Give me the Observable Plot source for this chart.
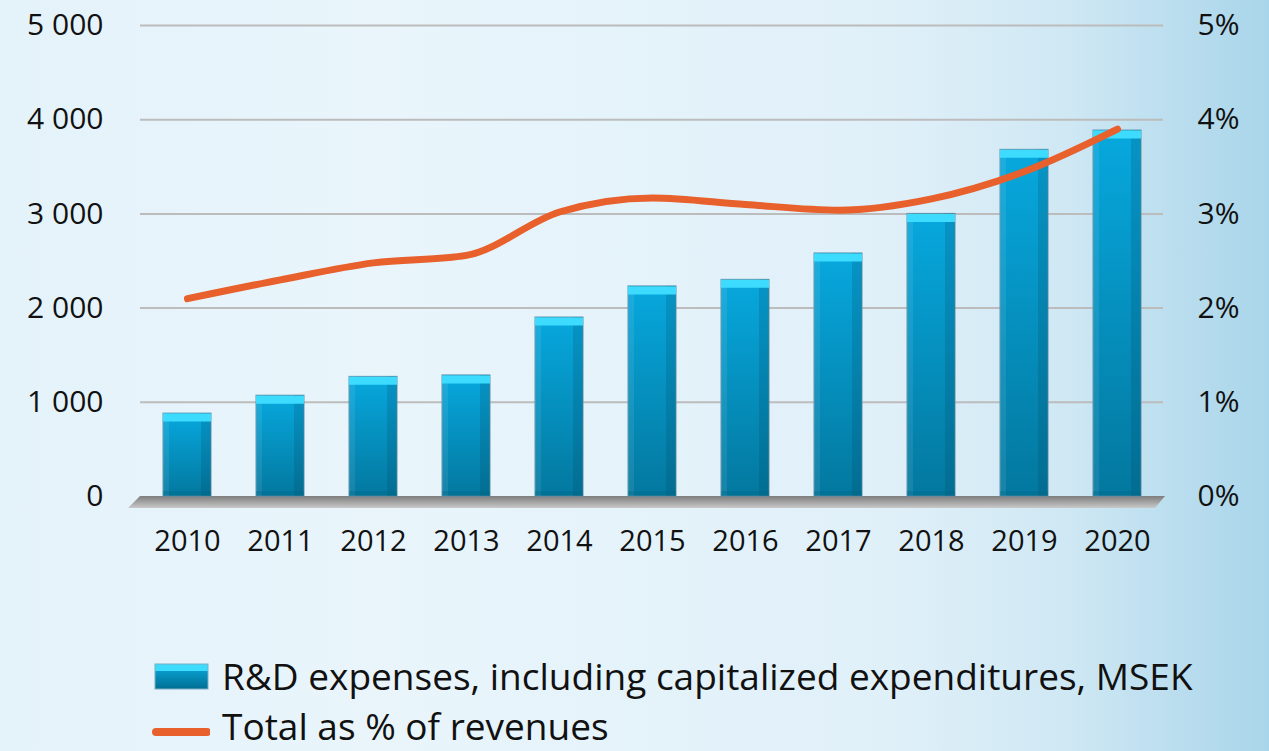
<!DOCTYPE html>
<html>
<head>
<meta charset="utf-8">
<script src="https://cdn.jsdelivr.net/npm/d3@7"></script>
<script src="https://cdn.jsdelivr.net/npm/@observablehq/plot@0.6"></script>
<style>
  html, body { margin: 0; padding: 0; }
  body {
    position: relative;
    width: 1269px; height: 751px; overflow: hidden;
    font-family: "Open Sans", "Noto Sans", sans-serif;
    background: linear-gradient(to right, #e4f2fa 0%, #e9f5fb 30%, #e0f0f9 70%, #cfe8f4 84%, #a9d5ea 100%);
  }
  #chart svg { display: block; background: transparent; }
  .legend { position: absolute; left: 152px; top: 0; font-size: 37px; line-height: 1; color: #111; }
  .row { position: absolute; white-space: nowrap; display: flex; align-items: center; height: 37px; }
  .row span { margin-left: 12px; }
</style>
</head>
<body>
<div id="chart"></div>
<div class="legend">
  <div class="row" style="top:657px;left:0"><svg width="58" height="30"><defs><linearGradient id="lg" x1="0" y1="0" x2="0" y2="1"><stop offset="0" stop-color="#3ddcff"/><stop offset="0.3" stop-color="#3ddcff"/><stop offset="0.3" stop-color="#0899c8"/><stop offset="1" stop-color="#006f94"/></linearGradient></defs><rect x="3" y="3" width="53" height="25" fill="url(#lg)" stroke="#7aaec4" stroke-width="1"/></svg><span id="l1">R&amp;D expenses, including capitalized expenditures, MSEK</span></div>
  <div class="row" style="top:707px;left:0"><svg width="58" height="30"><line x1="4" y1="21" x2="55" y2="21" stroke="#e8602c" stroke-width="8" stroke-linecap="round"/></svg><span id="l2">Total as % of revenues</span></div>
</div>
<script>
const years = ["2010","2011","2012","2013","2014","2015","2016","2017","2018","2019","2020"];
const rdExpenses = [880, 1070, 1270, 1285, 1900, 2230, 2300, 2580, 3000, 3680, 3885];
const pctOfRevenues = [2.1, 2.3, 2.48, 2.56, 3.02, 3.17, 3.1, 3.04, 3.16, 3.45, 3.9];
const leftTicks = [0, 1000, 2000, 3000, 4000, 5000];
const rightTickLabels = ["0%", "1%", "2%", "3%", "4%", "5%"];

const data = years.map((y, i) => ({year: y, value: rdExpenses[i], pct: pctOfRevenues[i]}));
const loc = d3.formatLocale({thousands: "\u00a0", grouping: [3], decimal: ","});
const fmt = loc.format(",");
const svgNS = "http://www.w3.org/2000/svg";

function defs() {
  const d = document.createElementNS(svgNS, "defs");
  d.innerHTML = `
    <linearGradient id="barV" x1="0" y1="0" x2="0" y2="1">
      <stop offset="0" stop-color="#07a8de"/>
      <stop offset="1" stop-color="#03789f"/>
    </linearGradient>
    <linearGradient id="barH" x1="0" y1="0" x2="1" y2="0">
      <stop offset="0" stop-color="#ffffff" stop-opacity="0.08"/>
      <stop offset="0.12" stop-color="#ffffff" stop-opacity="0.08"/>
      <stop offset="0.12" stop-color="#ffffff" stop-opacity="0"/>
      <stop offset="0.8" stop-color="#003a55" stop-opacity="0"/>
      <stop offset="0.8" stop-color="#003a55" stop-opacity="0.18"/>
      <stop offset="1" stop-color="#003a55" stop-opacity="0.18"/>
    </linearGradient>
    <linearGradient id="base" x1="0" y1="0" x2="0" y2="1">
      <stop offset="0" stop-color="#7d7d7d"/>
      <stop offset="1" stop-color="#c9c9c9"/>
    </linearGradient>`;
  return d;
}

function platform(index, scales, values, dims) {
  const y0 = scales.y(0);
  const l = dims.marginLeft, r = dims.width - dims.marginRight;
  const p = document.createElementNS(svgNS, "polygon");
  p.setAttribute("points", `${l},${y0} ${r + 2},${y0} ${r - 8},${y0 + 12} ${l - 12},${y0 + 12}`);
  p.setAttribute("fill", "url(#base)");
  return p;
}

const plot = Plot.plot({
  width: 1269,
  height: 570,
  marginLeft: 140,
  marginRight: 106,
  marginTop: 25,
  marginBottom: 74,
  style: {fontFamily: "'Open Sans', 'Noto Sans', sans-serif", color: "#111", background: "transparent"},
  x: {domain: years, paddingInner: 0.484, paddingOuter: 0.242},
  y: {domain: [0, 5000]},
  marks: [
    defs,
    Plot.gridY(leftTicks.slice(1), {stroke: "#bcbcbc", strokeOpacity: 1, strokeWidth: 2}),
    platform,
    Plot.barY(data, {x: "year", y: "value", fill: "url(#barV)", stroke: "#5f93ab", strokeWidth: 1}),
    Plot.barY(data, {x: "year", y: "value", fill: "url(#barH)"}),
    Plot.tickY(data, {x: "year", y: "value", stroke: "#3ddcff", strokeWidth: 8, dy: 4}),
    Plot.tickY(data, {x: "year", y: 0, stroke: "#006688", strokeOpacity: 0.35, strokeWidth: 5, dy: -3}),
    Plot.line(data, {x: "year", y: d => d.pct * 1000, stroke: "#e8602c", strokeWidth: 7, curve: "monotone-x", strokeLinecap: "round", strokeLinejoin: "round"}),
    Plot.axisY(leftTicks, {anchor: "left", tickSize: 0, tickPadding: 37, tickFormat: fmt, fontSize: 30, label: null}),
    Plot.axisY(leftTicks, {anchor: "right", tickSize: 0, tickPadding: 34, tickFormat: (d, i) => rightTickLabels[i], fontSize: 30, label: null}),
    Plot.axisX({tickSize: 0, tickPadding: 34, fontSize: 29, label: null})
  ]
});
document.getElementById("chart").appendChild(plot);
</script>
</body>
</html>
